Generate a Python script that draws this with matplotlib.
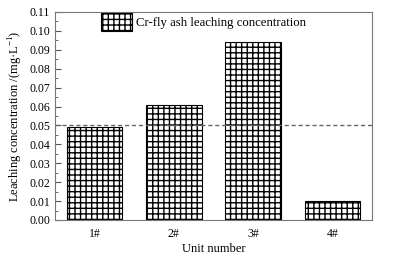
import numpy as np
import matplotlib.pyplot as plt
from matplotlib.ticker import MultipleLocator

plt.rcParams['font.family'] = ['Liberation Serif', 'DejaVu Serif']
plt.rcParams['mathtext.fontset'] = 'custom'
plt.rcParams['mathtext.rm'] = 'Liberation Serif'
plt.rcParams['hatch.linewidth'] = 1.0

units = ['1#', '2#', '3#', '4#']
conc = [0.049, 0.061, 0.094, 0.010]
limit = 0.05

fig = plt.figure(figsize=(4.03, 2.6), dpi=100)
ax = fig.add_axes([55/403, 1-220/260, 317/403, 208/260])

x = np.arange(len(units))
ax.bar(x, conc, width=0.7, color='white', edgecolor='black', linewidth=0.8,
       hatch='+++', label='Cr-fly ash leaching concentration')
ax.axhline(limit, color='#666666', linestyle=(0, (3, 2)), linewidth=1)

ax.set_xlim(-0.5, 3.5)
ax.set_ylim(0, 0.11)
ax.set_xticks(x)
ax.set_xticklabels(units)
ax.yaxis.set_major_locator(MultipleLocator(0.01))
ax.yaxis.set_minor_locator(MultipleLocator(0.005))
ax.yaxis.set_major_formatter(plt.FormatStrFormatter('%.2f'))
ax.tick_params(axis='y', which='both', direction='in', labelsize=8.5, colors='#555555', labelcolor='black')
ax.tick_params(axis='y', which='major', length=4)
ax.tick_params(axis='y', which='minor', length=2)
ax.tick_params(axis='x', length=0, labelsize=8.5, pad=6)
for s in ax.spines.values():
    s.set_color('#777777')
    s.set_linewidth(0.8)

ax.set_xlabel('Unit number', fontsize=9, labelpad=2)
ax.set_ylabel('Leaching concentration /(mg·L$^{-1}$)', fontsize=9, labelpad=3)

ax.legend(loc='upper left', bbox_to_anchor=((101-55)/317, 1-1/208), frameon=False, fontsize=9.2,
          handlelength=2.4, handleheight=1.75, handletextpad=0.35, borderpad=0, borderaxespad=0)

fig.savefig('out.png', dpi=100)
